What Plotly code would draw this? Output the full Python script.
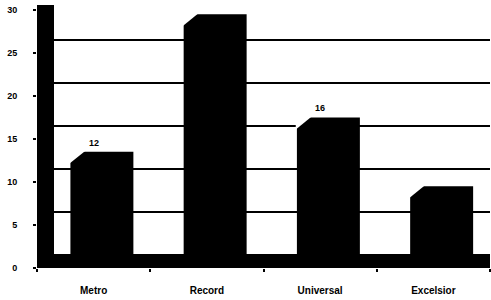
import plotly.graph_objects as go

# ---- data ----
categories = ["Metro", "Record", "Universal", "Excelsior"]
values = [12, 28, 16, 8]
show_label = [True, False, True, False]
y_ticks = [0, 5, 10, 15, 20, 25, 30]

# ---- style constants ----
PX_PER_UNIT = 8.6
DEPTH = 13 / PX_PER_UNIT          # 3D depth offset in value units
Y_TOP = 263 / PX_PER_UNIT
BAR_W = 0.556
BAR_OFF = -0.205
BEVEL_X = 0.15
BEVEL_Y = 12 / PX_PER_UNIT
FONT = "Liberation Sans"

xs = list(range(len(categories)))

fig = go.Figure()

# bars (back plane values)
fig.add_trace(go.Bar(
    x=xs, y=[v + DEPTH for v in values], base=-DEPTH,
    width=BAR_W, offset=BAR_OFF,
    marker=dict(color="black", line=dict(width=0)),
    yaxis="y2", hoverinfo="skip", showlegend=False,
))

# bevels (white triangles on top-left corner of each bar)
for i, v in enumerate(values):
    left = i + BAR_OFF
    fig.add_trace(go.Scatter(
        x=[left - 0.01, left - 0.01, left + BEVEL_X, left - 0.01],
        y=[v - BEVEL_Y, v + 0.3, v + 0.3, v - BEVEL_Y],
        fill="toself", fillcolor="white", mode="lines",
        line=dict(width=0, color="white"),
        yaxis="y2", hoverinfo="skip", showlegend=False,
    ))

shapes = [
    # left wall
    dict(type="rect", xref="paper", yref="paper", x0=0, x1=17 / 453, y0=0, y1=1,
         fillcolor="black", line=dict(width=0), layer="above"),
    # floor
    dict(type="rect", xref="paper", yref="y", x0=0, x1=1, y0=0, y1=DEPTH,
         fillcolor="black", line=dict(width=0), layer="above"),
]

annotations = []
for i, (v, s) in enumerate(zip(values, show_label)):
    if s:
        annotations.append(dict(
            x=i, y=v, xref="x", yref="y2", yshift=9, text=str(v), showarrow=False,
            font=dict(family=FONT, size=9, color="black", weight="bold"),
        ))

fig.update_layout(
    width=491, height=300,
    margin=dict(l=37, r=1, t=5, b=32),
    paper_bgcolor="white", plot_bgcolor="white",
    shapes=shapes, annotations=annotations,
    xaxis=dict(
        range=[-0.5, 3.5], tickvals=xs, ticktext=categories,
        ticks="", showgrid=False, zeroline=False, showline=False,
        automargin=False,
        tickfont=dict(family=FONT, size=10, color="black", weight="bold"),
        ticklabelstandoff=15,
        minor=dict(ticks="outside", tick0=-0.5, dtick=1, ticklen=3,
                   tickcolor="black", tickwidth=1.5, showgrid=False),
    ),
    yaxis=dict(
        range=[0, Y_TOP], tickvals=y_ticks, ticks="outside", ticklen=3,
        tickcolor="black", tickwidth=1.5, showgrid=False, zeroline=False,
        showline=False, automargin=False,
        tickfont=dict(family=FONT, size=9, color="black", weight="bold"),
        ticklabelstandoff=14,
    ),
    yaxis2=dict(
        range=[-DEPTH, Y_TOP - DEPTH], overlaying="y", side="left",
        tickvals=y_ticks, showticklabels=False, ticks="",
        showgrid=True, gridcolor="black", gridwidth=2, zeroline=False,
        showline=False, automargin=False,
    ),
)

fig.write_html("out.html", config={"displayModeBar": False},
               post_script="document.body.style.margin='0';")
